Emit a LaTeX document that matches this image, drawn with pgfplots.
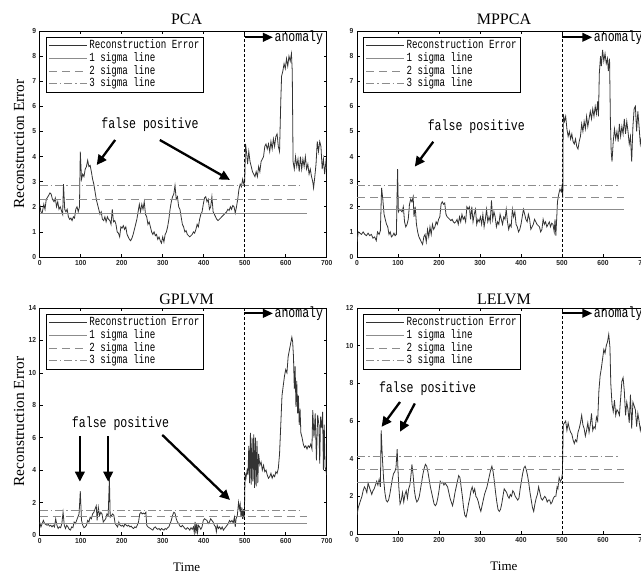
\documentclass[border=0pt]{standalone}
\usepackage{fontspec}
\setmainfont{Liberation Serif}
\newfontfamily\gothicL[FakeStretch=0.74]{Liberation Mono}
\newfontfamily\gothicA[FakeStretch=0.78]{Liberation Mono}
\newfontfamily\ticksf[FakeStretch=0.92]{Liberation Sans}
\usepackage{pgfplots}
\pgfplotsset{compat=1.18}
\usetikzlibrary{arrows.meta}
\definecolor{errc}{HTML}{333333}
\definecolor{sigc}{HTML}{8C8C8C}
\newcommand\legfont{\gothicL\fontsize{12.4}{13}\selectfont}
\newcommand\annfont{\gothicA\fontsize{14.8}{16}\selectfont}
\newcommand\tickfont{\ticksf\bfseries\fontsize{7.3}{8}\selectfont}
\pgfplotsset{
 panel/.style={
  scale only axis, width=287pt, xmin=0, xmax=700, xtick={0,100,...,700},
  tick align=inside, xtick pos=both, ytick pos=both, major tick length=3pt,
  tick label style={font=\tickfont, color=black!85}, /pgf/number format/assume math mode=true,
  axis line style={line width=0.8pt}, every tick/.style={black, line width=0.6pt},
  title style={font=\fontsize{16}{18}\selectfont, at={(axis description cs:0.512,1)}, anchor=base},
  ylabel style={at={(axis description cs:-0.072,0.5)}, anchor=center, font=\fontsize{15.4}{17}\selectfont},
  xlabel style={at={(axis description cs:0.512,-0.141)}, anchor=center, font=\fontsize{13}{15}\selectfont},
  legend cell align=left,
  legend style={at={(axis description cs:0.022,0.975)}, anchor=north west, draw=black, line width=1pt, font=\legfont, inner xsep=2pt, inner ysep=2.5pt, row sep=0.7pt, nodes={inner ysep=0.5pt, text height=8.5pt, text depth=2.5pt}},
  legend image code/.code={\draw[##1] (0pt,0pt) -- (38pt,0pt);},
  clip mode=individual,
 },
 err/.style={errc, line width=0.8pt},
 s1/.style={sigc, line width=0.7pt},
 s2/.style={sigc, line width=0.7pt, dash pattern=on 8pt off 5pt},
 s3/.style={sigc, line width=0.7pt, dash pattern=on 8pt off 3pt on 1.5pt off 3pt},
}
\tikzset{
 fparrow/.style={black, line width=2.3pt, -{Triangle[length=10pt,width=9.5pt]}},
 anarrow/.style={black, line width=2.2pt, -{Triangle[length=10pt,width=8.5pt]}},
 vline/.style={black, line width=0.8pt, dash pattern=on 3pt off 2pt},
}
\begin{document}
\begin{tikzpicture}
% ---------------- PCA
\begin{axis}[panel, at={(39.7pt,319pt)}, anchor=south west, height=226pt,
  ymin=0, ymax=9, ytick={0,1,...,9}, title={PCA}, title style={yshift=1pt},
  ylabel={Reconstruction Error}]
\addplot[err] coordinates {(0,2.1)(3,1.8)(6,1.75)(10,2.1)(13,1.9)(16,2.3)(20,2.4)(25,2.55)(28,2.5)(31,2.3)(35,2.2)(38,2.35)(41,2.0)(44,2.2)(47,1.9)(50,2.0)(53,1.85)(56,1.7)(58,2.9)(61,1.9)(64,1.8)(67,1.9)(70,1.6)(73,1.5)(76,1.55)(79,1.45)(82,1.6)(85,1.55)(88,1.9)(91,2.0)(94,1.8)(97,2.0)(99,4.2)(102,3.1)(105,3.3)(108,3.2)(111,3.5)(114,3.6)(117,3.85)(120,3.6)(123,3.65)(126,3.4)(129,3.1)(132,2.9)(135,2.6)(138,2.3)(141,2.1)(144,1.9)(147,1.7)(150,1.8)(153,1.5)(156,1.45)(159,1.6)(162,1.4)(165,1.6)(168,1.5)(171,1.45)(174,1.3)(177,1.9)(180,1.4)(183,1.45)(186,1.3)(189,1.0)(192,0.95)(195,0.8)(198,1.2)(201,1.15)(204,1.25)(207,1.1)(210,1.2)(213,0.9)(216,0.8)(219,0.7)(222,0.65)(225,0.75)(228,0.9)(231,1.1)(234,1.3)(237,1.5)(240,1.8)(243,2.1)(246,1.8)(249,2.1)(252,1.9)(255,2.2)(258,1.7)(261,1.6)(264,1.3)(267,1.4)(270,1.2)(273,1.0)(276,0.9)(279,1.0)(282,0.85)(285,0.9)(288,0.7)(291,0.8)(294,0.65)(297,0.55)(300,0.8)(303,0.6)(306,0.9)(309,1.0)(312,1.2)(315,1.5)(318,1.9)(321,2.2)(324,2.4)(327,2.5)(330,2.85)(333,2.3)(336,2.4)(339,2.0)(342,1.9)(345,1.6)(348,1.3)(351,1.2)(354,1.0)(357,1.05)(360,0.9)(363,0.85)(366,0.8)(369,0.85)(372,0.9)(375,1.0)(378,0.95)(381,1.1)(384,1.3)(387,1.2)(390,1.5)(393,1.7)(396,1.8)(399,2.1)(402,2.35)(405,2.4)(408,2.2)(411,2.3)(414,1.9)(417,2.0)(420,2.4)(423,1.8)(426,1.7)(429,1.6)(432,1.5)(435,1.45)(438,1.5)(441,1.55)(444,1.6)(447,1.65)(450,1.7)(453,1.75)(456,1.8)(459,1.9)(462,1.85)(465,2.0)(468,1.9)(471,2.05)(474,2.0)(477,1.75)(480,2.0)(483,2.3)(486,2.7)(489,2.9)(492,2.8)(495,3.1)(498,2.9)(500,3.0)(502,4.5)(505,4.1)(507,3.7)(510,4.2)(513,3.8)(516,3.6)(519,3.4)(522,3.3)(525,3.2)(528,3.4)(531,3.2)(534,3.6)(537,3.4)(540,3.8)(543,3.9)(546,4.0)(549,4.4)(552,4.5)(555,4.3)(558,4.5)(561,4.2)(564,4.6)(567,4.3)(570,4.7)(573,4.4)(576,4.8)(579,4.9)(582,4.4)(585,4.2)(588,6.2)(590,7.2)(593,7.4)(596,7.7)(599,7.5)(602,7.9)(605,7.6)(608,8.0)(611,7.8)(614,8.1)(616,7.4)(618,3.8)(621,3.5)(624,4.0)(627,3.6)(630,3.9)(633,3.4)(636,4.0)(639,3.5)(642,3.9)(645,3.6)(648,4.0)(651,3.5)(654,3.7)(657,3.3)(660,3.5)(663,3.2)(666,3.0)(668,2.75)(671,3.2)(674,3.7)(677,4.6)(680,4.2)(683,4.6)(686,4.4)(689,3.5)(692,3.9)(695,3.3)(698,3.8)(700,3.5)};
\addlegendentry{Reconstruction Error}
\addplot[s1] coordinates {(0,1.75)(652,1.75)};
\addlegendentry{1 sigma line}
\addplot[s2] coordinates {(0,2.3)(652,2.3)};
\addlegendentry{2 sigma line}
\addplot[s3] coordinates {(0,2.85)(640,2.85)};
\addlegendentry{3 sigma line}
\draw[vline] (axis cs:500,0) -- (axis cs:500,9);
\draw[anarrow] (axis cs:500,8.75) -- (axis cs:569,8.75);
\node[anchor=west, font=\annfont, inner sep=1pt] at (axis cs:570,8.75) {anomaly};
\node[font=\annfont] at (axis cs:269,5.26) {false positive};
\draw[fparrow] (axis cs:184,4.66) -- (axis cs:139,3.66);
\draw[fparrow] (axis cs:293,4.66) -- (axis cs:464,3.07);
\end{axis}
% ---------------- MPPCA
\begin{axis}[panel, at={(357pt,319pt)}, anchor=south west, height=226pt,
  ymin=0, ymax=9, ytick={0,1,...,9}, title={MPPCA}, title style={yshift=1pt}]
\addplot[err] coordinates {(0,0.6)(3,1.0)(7,0.95)(11,0.9)(15,1.0)(19,0.9)(23,0.85)(27,0.95)(31,0.85)(35,0.9)(39,0.75)(43,0.8)(47,0.65)(50,1.0)(54,0.9)(57,1.05)(60,2.75)(63,2.3)(66,1.7)(69,1.5)(72,1.3)(75,1.2)(78,0.9)(81,1.0)(84,0.8)(87,0.85)(90,0.95)(93,0.85)(96,0.9)(99,3.5)(101,1.8)(104,1.9)(107,1.85)(110,1.8)(113,2.0)(116,1.4)(119,1.2)(122,1.3)(125,1.5)(128,2.1)(131,2.3)(134,2.2)(137,2.4)(139,1.6)(142,2.0)(145,1.3)(148,1.0)(151,0.8)(154,0.7)(157,0.6)(160,0.5)(163,0.8)(166,0.9)(169,0.6)(172,1.1)(175,0.8)(178,1.2)(181,0.9)(184,1.3)(187,1.1)(190,1.2)(193,1.4)(196,1.3)(199,1.5)(202,1.6)(205,2.1)(208,2.2)(211,2.1)(214,2.15)(217,1.7)(220,1.6)(223,1.55)(226,1.5)(229,1.45)(232,1.5)(235,1.4)(238,1.35)(241,1.4)(244,1.5)(247,1.3)(250,1.6)(253,1.4)(256,1.7)(259,1.5)(262,1.6)(265,1.4)(268,2.0)(271,1.9)(274,2.0)(277,1.5)(280,2.0)(283,1.4)(286,1.7)(289,1.9)(292,1.3)(295,1.5)(298,1.4)(301,1.6)(304,1.3)(307,1.7)(310,1.2)(313,1.5)(316,1.9)(319,1.4)(322,1.6)(325,1.4)(328,2.25)(331,1.5)(334,1.8)(337,1.6)(340,1.2)(343,1.4)(346,1.3)(349,1.7)(352,1.5)(355,1.3)(358,1.6)(361,1.5)(364,1.9)(367,1.4)(370,1.1)(373,1.3)(376,1.2)(379,1.9)(382,1.6)(385,1.8)(388,1.3)(391,1.2)(394,1.0)(397,1.1)(400,1.3)(403,1.6)(406,1.9)(409,1.7)(412,1.5)(415,1.4)(418,1.7)(421,1.5)(424,1.1)(427,1.2)(430,1.3)(433,1.5)(436,1.4)(439,1.3)(442,1.25)(445,1.2)(448,1.0)(451,1.1)(454,1.5)(457,1.3)(460,1.4)(463,1.2)(466,1.3)(469,1.4)(472,1.2)(475,1.35)(478,1.3)(481,1.0)(483,1.5)(485,0.85)(487,1.5)(489,2.2)(492,2.5)(495,2.7)(498,2.6)(500,2.8)(502,2.35)(503,5.7)(506,5.4)(509,5.6)(512,5.1)(515,4.8)(518,5.0)(521,4.7)(524,4.9)(527,4.6)(530,4.5)(533,4.7)(536,4.4)(539,4.3)(542,4.6)(545,4.8)(548,5.3)(551,5.0)(554,5.4)(557,5.1)(560,5.6)(563,5.2)(566,5.5)(569,5.8)(572,5.5)(575,5.9)(578,5.6)(581,6.0)(584,5.7)(587,6.2)(589,5.6)(591,7.3)(594,8.0)(596,7.6)(599,8.25)(602,7.8)(605,8.1)(608,7.7)(611,7.9)(613,7.4)(616,7.9)(618,5.5)(620,4.2)(622,3.8)(625,4.6)(628,5.1)(631,4.7)(634,5.0)(637,4.6)(640,5.3)(643,4.8)(646,5.2)(649,4.9)(652,5.5)(655,4.9)(658,5.4)(661,5.0)(664,4.5)(667,4.8)(670,3.8)(673,5.2)(676,5.9)(679,6.0)(682,5.0)(685,5.8)(688,5.2)(691,4.5)(694,4.8)(697,4.5)(700,4.6)};
\addlegendentry{Reconstruction Error}
\addplot[s1] coordinates {(0,1.9)(652,1.9)};
\addlegendentry{1 sigma line}
\addplot[s2] coordinates {(0,2.37)(652,2.37)};
\addlegendentry{2 sigma line}
\addplot[s3] coordinates {(0,2.85)(640,2.85)};
\addlegendentry{3 sigma line}
\draw[vline] (axis cs:500,0) -- (axis cs:500,9);
\draw[anarrow] (axis cs:500,8.75) -- (axis cs:574,8.75);
\node[anchor=west, font=\annfont, inner sep=1pt] at (axis cs:575,8.75) {anomaly};
\node[font=\annfont] at (axis cs:291,5.19) {false positive};
\draw[fparrow] (axis cs:186,4.59) -- (axis cs:141,3.6);
\end{axis}
% ---------------- GPLVM
\begin{axis}[panel, at={(39.7pt,41pt)}, anchor=south west, height=227pt,
  ymin=0, ymax=14, ytick={0,2,...,14}, title={GPLVM}, title style={yshift=-2.3pt},
  ylabel={Reconstruction Error}, xlabel={Time}]
\addplot[err] coordinates {(0,0.8)(3,0.5)(6,0.7)(9,0.9)(12,0.7)(15,0.65)(18,0.6)(21,0.65)(24,0.55)(27,0.6)(30,0.5)(33,0.6)(36,0.5)(39,1.0)(42,0.6)(45,0.4)(48,0.5)(51,0.45)(54,0.7)(57,1.4)(60,0.6)(63,0.4)(66,0.6)(69,0.5)(72,0.35)(75,0.3)(78,0.5)(81,0.45)(84,0.8)(87,0.7)(90,0.9)(93,1.1)(96,1.3)(99,2.7)(102,0.9)(105,0.6)(108,0.45)(111,0.5)(114,0.6)(117,0.9)(120,0.8)(123,1.1)(126,1.0)(129,1.3)(132,1.4)(135,1.6)(138,1.8)(140,0.9)(143,1.7)(146,1.2)(149,1.4)(152,1.3)(155,0.8)(158,0.9)(161,1.0)(164,1.3)(167,1.2)(170,3.5)(172,1.1)(175,1.2)(178,1.3)(181,1.2)(184,0.7)(187,0.6)(190,0.5)(193,0.8)(196,0.6)(199,0.55)(202,0.6)(205,0.5)(208,0.7)(211,0.6)(214,0.55)(217,0.6)(220,0.5)(223,0.55)(226,0.45)(229,0.4)(232,0.5)(235,0.45)(238,0.6)(241,0.8)(244,1.3)(247,1.4)(250,1.3)(253,1.35)(256,1.3)(259,1.4)(261,0.6)(264,0.5)(267,0.45)(270,0.4)(273,0.35)(276,0.3)(279,0.45)(282,0.5)(285,0.4)(288,0.35)(291,0.4)(294,0.3)(297,0.4)(300,0.35)(303,0.3)(306,0.4)(309,0.35)(312,0.45)(315,0.5)(318,0.7)(321,0.9)(324,1.2)(327,1.4)(330,1.35)(333,1.0)(336,0.8)(339,0.7)(342,0.55)(345,0.5)(348,0.6)(351,0.5)(354,0.4)(357,0.35)(360,0.45)(363,0.4)(366,0.3)(369,0.45)(372,0.35)(375,0.5)(377,0.15)(379,0.8)(381,0.1)(383,0.7)(385,0.15)(387,0.6)(390,0.5)(393,0.35)(396,0.5)(399,0.9)(402,1.0)(405,0.95)(408,0.9)(411,0.7)(414,0.8)(417,1.0)(420,0.9)(423,0.8)(426,0.6)(429,0.5)(431,0.2)(433,0.6)(436,0.4)(439,0.5)(442,0.35)(445,0.5)(448,0.3)(451,0.4)(454,0.5)(457,0.6)(460,0.7)(463,0.9)(466,0.8)(469,0.9)(472,0.75)(475,1.1)(477,0.5)(479,1.0)(482,1.2)(485,2.0)(487,1.6)(489,1.9)(491,1.1)(493,1.7)(495,1.0)(497,1.6)(499,1.0)(501,3.8)(503,3.5)(506,4.0)(508,3.7)(510,5.5)(512,3.2)(514,6.3)(516,3.1)(518,6.0)(520,3.3)(522,6.2)(524,2.9)(526,6.0)(528,3.0)(530,5.8)(532,3.2)(534,5.0)(537,4.3)(540,4.5)(543,4.0)(546,4.3)(549,3.9)(552,4.0)(555,3.7)(558,3.5)(561,3.6)(564,3.8)(567,3.5)(570,3.7)(573,3.6)(576,3.9)(579,3.8)(582,4.1)(585,5.0)(588,6.8)(591,8.6)(594,9.2)(597,9.8)(600,10.2)(603,10.0)(606,11.0)(609,11.4)(612,11.8)(615,12.2)(617,11.9)(619,11.0)(621,9.0)(623,10.4)(625,7.9)(627,9.5)(629,7.5)(631,8.6)(633,6.8)(635,7.8)(637,6.3)(640,6.0)(643,5.6)(646,5.4)(649,5.5)(652,5.3)(655,5.5)(658,5.4)(661,5.6)(664,5.3)(666,7.7)(669,6.0)(672,7.5)(675,4.6)(678,7.4)(681,6.8)(683,4.4)(685,7.3)(688,6.6)(690,7.6)(692,4.0)(694,6.8)(696,4.2)(698,4.0)(700,3.7)};
\addlegendentry{Reconstruction Error}
\addplot[s1] coordinates {(0,0.72)(652,0.72)};
\addlegendentry{1 sigma line}
\addplot[s2] coordinates {(0,1.13)(652,1.13)};
\addlegendentry{2 sigma line}
\addplot[s3] coordinates {(0,1.54)(640,1.54)};
\addlegendentry{3 sigma line}
\draw[vline] (axis cs:500,0) -- (axis cs:500,14);
\draw[anarrow] (axis cs:500,13.67) -- (axis cs:569,13.67);
\node[anchor=west, font=\annfont, inner sep=1pt] at (axis cs:570,13.67) {anomaly};
\node[font=\annfont] at (axis cs:197,6.89) {false positive};
\draw[fparrow] (axis cs:98,6.1) -- (axis cs:98,3.29);
\draw[fparrow] (axis cs:167,6.1) -- (axis cs:167,3.29);
\draw[fparrow] (axis cs:299,6.17) -- (axis cs:464,2.16);
\end{axis}
% ---------------- LELVM
\begin{axis}[panel, at={(357pt,42pt)}, anchor=south west, height=226pt,
  ymin=0, ymax=12, ytick={0,2,...,12}, title={LELVM}, title style={yshift=-2.3pt},
  xlabel={Time}]
\addplot[err] coordinates {(0,1.0)(3,1.4)(6,1.6)(9,1.8)(12,2.0)(15,2.3)(18,2.5)(21,2.4)(24,2.2)(27,2.7)(30,2.5)(33,2.3)(36,2.1)(39,2.3)(42,2.4)(45,2.6)(48,2.8)(51,2.6)(54,2.9)(57,2.5)(59,5.5)(62,4.0)(65,2.9)(68,2.2)(71,1.8)(74,1.7)(77,1.8)(80,2.1)(83,2.5)(86,2.9)(89,3.2)(92,3.3)(95,3.5)(98,4.5)(100,3.4)(102,2.5)(105,1.6)(108,1.8)(111,2.2)(114,1.7)(117,2.1)(120,2.3)(123,1.9)(126,2.4)(129,2.6)(132,3.2)(134,3.7)(137,3.1)(140,2.3)(143,1.9)(146,1.7)(149,1.8)(152,2.0)(155,2.4)(158,2.8)(161,3.2)(164,3.5)(167,3.7)(170,3.6)(173,3.3)(176,2.9)(179,2.5)(182,2.2)(185,1.9)(188,1.6)(191,1.5)(194,1.6)(197,1.9)(200,2.3)(203,2.8)(206,2.7)(209,2.75)(212,2.6)(215,2.7)(218,2.6)(221,2.5)(224,2.2)(227,1.9)(230,1.7)(233,1.5)(236,1.8)(239,2.2)(242,2.5)(245,2.8)(248,3.1)(251,3.0)(254,2.5)(257,2.0)(260,1.4)(263,1.0)(266,0.9)(269,1.2)(272,1.6)(275,1.9)(278,2.3)(281,2.5)(284,2.2)(287,2.4)(290,2.0)(293,1.9)(296,1.7)(299,1.4)(302,1.2)(305,1.5)(308,1.8)(311,2.1)(314,2.3)(317,2.5)(320,2.8)(323,3.1)(326,3.4)(329,3.6)(332,3.3)(335,2.8)(338,2.2)(341,1.7)(344,1.3)(347,1.2)(350,1.3)(353,1.6)(356,2.0)(359,2.4)(362,2.3)(365,2.2)(368,2.0)(371,1.9)(374,2.1)(377,2.0)(380,2.3)(383,2.2)(386,2.0)(389,1.9)(392,1.8)(395,1.9)(398,2.4)(401,2.8)(404,3.2)(407,3.5)(410,3.6)(413,3.4)(416,3.1)(419,2.7)(422,2.2)(425,1.8)(428,1.4)(431,1.2)(434,1.6)(437,1.9)(440,2.1)(443,2.5)(446,2.2)(449,1.9)(452,1.8)(455,1.9)(458,2.0)(461,1.9)(464,1.7)(467,1.8)(470,1.8)(473,1.6)(476,1.7)(479,1.9)(482,2.0)(485,2.0)(488,2.5)(490,2.4)(493,3.0)(496,2.8)(499,2.9)(501,3.2)(503,5.8)(506,5.9)(509,6.0)(512,5.5)(515,5.9)(518,5.6)(521,5.4)(524,5.3)(527,5.0)(530,4.8)(533,5.0)(536,4.9)(539,5.4)(542,5.6)(545,5.9)(548,6.3)(551,5.8)(554,5.6)(557,5.2)(560,5.5)(563,5.9)(566,5.4)(569,5.8)(572,6.4)(575,5.5)(578,5.7)(581,5.6)(584,6.2)(587,6.0)(590,7.6)(593,8.4)(596,8.8)(599,9.3)(602,9.8)(605,9.6)(608,10.0)(611,10.2)(614,10.6)(617,9.9)(619,8.0)(622,6.9)(625,6.5)(628,7.1)(631,6.3)(634,6.6)(637,6.5)(640,6.3)(643,7.2)(646,8.1)(649,8.3)(652,7.6)(655,6.3)(658,7.0)(661,6.6)(664,5.9)(667,7.4)(670,5.6)(673,7.0)(676,6.8)(679,6.6)(682,5.7)(685,6.4)(688,6.0)(691,5.5)(694,5.8)(697,5.4)(700,5.7)};
\addlegendentry{Reconstruction Error}
\addplot[s1] coordinates {(0,2.72)(652,2.72)};
\addlegendentry{1 sigma line}
\addplot[s2] coordinates {(0,3.43)(652,3.43)};
\addlegendentry{2 sigma line}
\addplot[s3] coordinates {(0,4.1)(640,4.1)};
\addlegendentry{3 sigma line}
\draw[vline] (axis cs:500,0) -- (axis cs:500,12);
\draw[anarrow] (axis cs:500,11.72) -- (axis cs:574,11.72);
\node[anchor=west, font=\annfont, inner sep=1pt] at (axis cs:575,11.72) {anomaly};
\node[font=\annfont] at (axis cs:172,7.73) {false positive};
\draw[fparrow] (axis cs:105,7.01) -- (axis cs:60,5.69);
\draw[fparrow] (axis cs:141,6.93) -- (axis cs:105,5.43);
\end{axis}
\pgfresetboundingbox
\useasboundingbox (0,0) rectangle (641pt,576pt);
\end{tikzpicture}
\end{document}
